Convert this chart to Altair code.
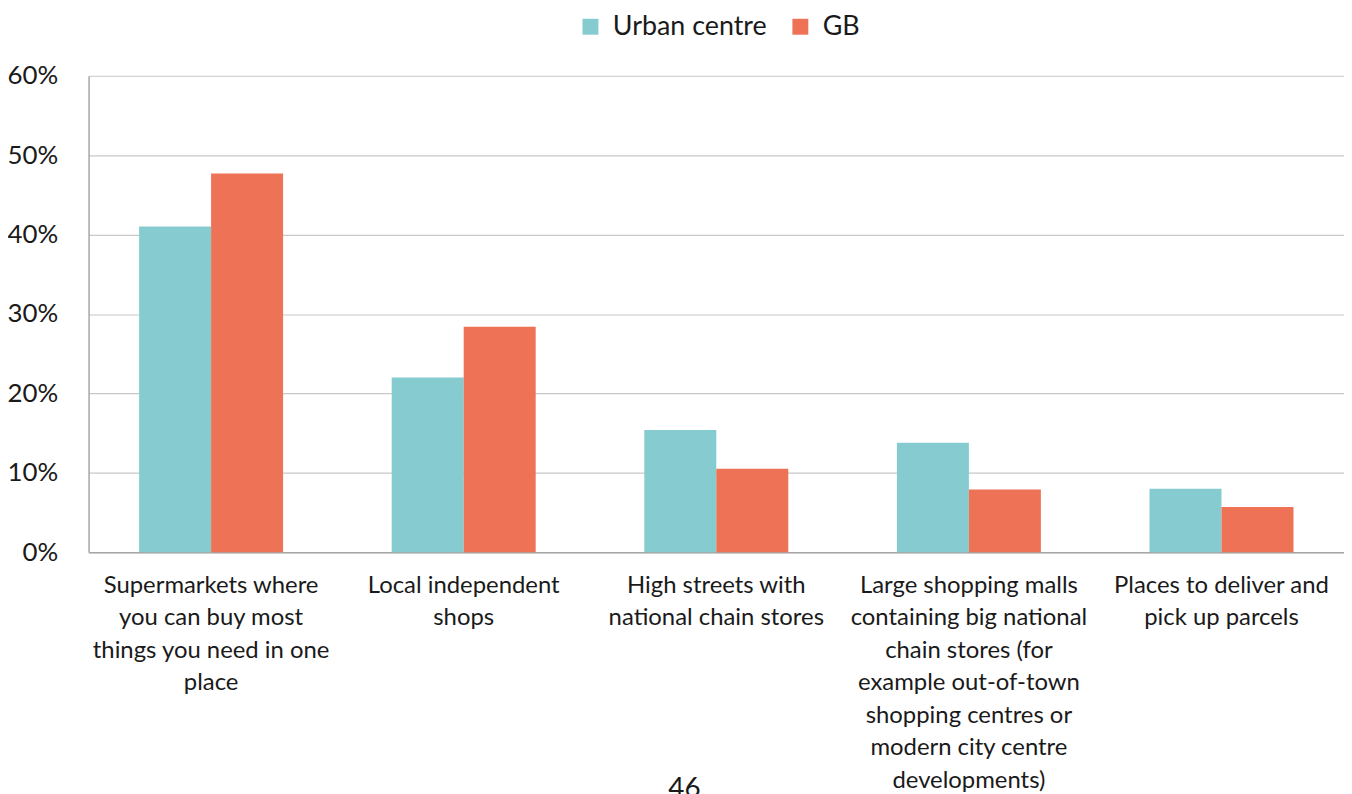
import altair as alt
import pandas as pd

categories = [
    "Supermarkets where\nyou can buy most\nthings you need in one\nplace",
    "Local independent\nshops",
    "High streets with\nnational chain stores",
    "Large shopping malls\ncontaining big national\nchain stores (for\nexample out-of-town\nshopping centres or\nmodern city centre\ndevelopments)",
    "Places to deliver and\npick up parcels",
]
series = ["Urban centre", "GB"]
urban_values = [0.41, 0.22, 0.154, 0.138, 0.080]
gb_values = [0.477, 0.284, 0.105, 0.079, 0.057]
colors = ["#86CBCF", "#EE7256"]
page_number = ["46"]

rows = []
for c, u, g in zip(categories, urban_values, gb_values):
    rows.append({"category": c, "series": series[0], "value": u})
    rows.append({"category": c, "series": series[1], "value": g})
df = pd.DataFrame(rows)

FONT = "Lato"

bars = alt.Chart(df).mark_bar().encode(
    x=alt.X("category:N", sort=categories, title=None,
            scale=alt.Scale(paddingInner=0.43),
            axis=alt.Axis(labelAngle=0, labelExpr="split(datum.label, '\\n')",
                          labelFontSize=24, labelLineHeight=32.7, labelPadding=21,
                          labelColor="#1a1a1a", labelFont=FONT, ticks=False,
                          domainColor="#a6a6a6", domainWidth=1.5, labelBaseline="top",
                          labelLimit=400)),
    xOffset=alt.XOffset("series:N", sort=series, scale=alt.Scale(paddingInner=0, paddingOuter=0)),
    y=alt.Y("value:Q", title=None,
            scale=alt.Scale(domain=[0, 0.6]),
            axis=alt.Axis(format=".0%", values=[0, 0.1, 0.2, 0.3, 0.4, 0.5, 0.6],
                          labelFontSize=26, labelColor="#1a1a1a", labelFont=FONT,
                          labelPadding=31, ticks=False, domainColor="#a6a6a6",
                          domainWidth=1.5, gridColor="#c8c8c8", gridWidth=1.2)),
    color=alt.Color("series:N", sort=series,
                    scale=alt.Scale(domain=series, range=colors),
                    legend=alt.Legend(title=None, orient="none", direction="horizontal",
                                      legendX=491, legendY=-63, symbolType="square",
                                      symbolSize=256, symbolStrokeWidth=0,
                                      labelFontSize=27, labelFont=FONT, labelColor="#1a1a1a",
                                      labelOffset=9, columnPadding=20, labelLimit=400)),
)

note = alt.Chart(pd.DataFrame({"t": page_number})).mark_text(
    fontSize=28, font=FONT, color="#1a1a1a", baseline="top"
).encode(text="t:N", x=alt.value(599), y=alt.value(703))

chart = alt.layer(bars, note).properties(
    width=1262, height=479,
    autosize=alt.AutoSizeParams(type="none"),
    padding={"left": 81, "top": 66, "right": 0, "bottom": 250},
).configure_view(stroke=None)

chart.save("out.html", embed_options={"renderer": "svg", "actions": False})
